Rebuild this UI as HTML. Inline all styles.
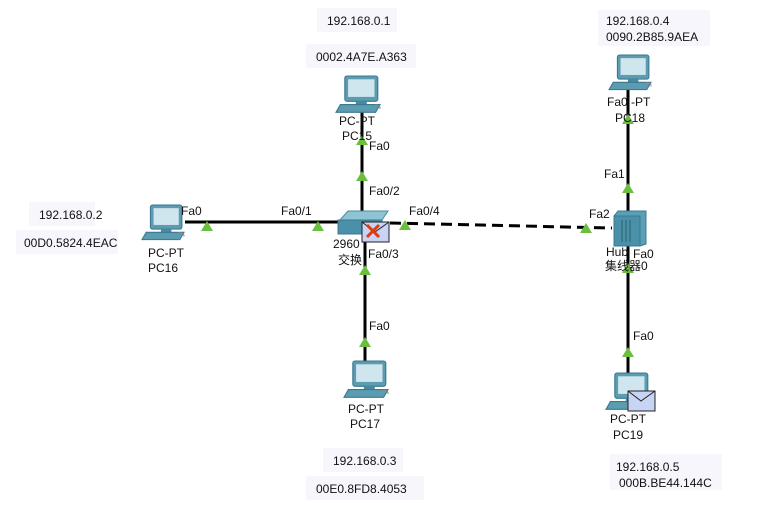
<!DOCTYPE html>
<html><head><meta charset="utf-8"><style>
body{margin:0;background:#fff;width:784px;height:511px;overflow:hidden}
svg{display:block;font-family:"Liberation Sans","Noto Sans CJK SC",sans-serif;font-size:12px}
</style></head><body>
<svg width="784" height="511" xmlns="http://www.w3.org/2000/svg">
<defs>
<g id="pc">
<rect x="8" y="0" width="30" height="23" rx="2" fill="#5b9cb0" stroke="#3b7890"/>
<rect x="11" y="3" width="24" height="16" fill="#cfe6ee"/>
<rect x="18" y="23" width="10" height="3" fill="#4a8aa0"/>
<polygon points="4,26 40,26 36,33 0,33" fill="#5b9cb0" stroke="#3b7890"/>
<path d="M34,27 q6,-2 6,3" stroke="#888" fill="none"/>
</g>
<polygon id="tri" points="0,-5 6,5 -6,5" fill="#6abf3f"/>
</defs>
<g fill="#f6f6fc">
<rect x="317" y="8" width="80" height="24"/><rect x="306" y="44" width="110" height="24"/>
<rect x="29" y="202" width="66" height="24"/><rect x="16" y="230" width="102" height="24"/>
<rect x="323" y="448" width="80" height="24"/><rect x="306" y="476" width="118" height="24"/>
<rect x="598" y="10" width="112" height="36"/>
<rect x="610" y="454" width="112" height="36"/>
</g>
<g fill="#111">
<text x="327" y="25">192.168.0.1</text>
<text x="316" y="61">0002.4A7E.A363</text>
<text x="39" y="219">192.168.0.2</text>
<text x="24" y="247">00D0.5824.4EAC</text>
<text x="333" y="465">192.168.0.3</text>
<text x="316" y="493">00E0.8FD8.4053</text>
<text x="606" y="25">192.168.0.4</text>
<text x="606" y="41">0090.2B85.9AEA</text>
<text x="616" y="471">192.168.0.5</text>
<text x="619" y="487">000B.BE44.144C</text>
</g>
<g stroke="#000" stroke-width="3">
<line x1="185" y1="222" x2="340" y2="222"/>
<line x1="362" y1="112" x2="362" y2="215"/>
<line x1="365" y1="238" x2="365" y2="362"/>
<line x1="628" y1="90" x2="628" y2="212"/>
<line x1="628" y1="245" x2="628" y2="373"/>
<line x1="390" y1="223" x2="612" y2="228" stroke-dasharray="11,6"/>
</g>
<use href="#pc" transform="translate(336,76) scale(1.1)"/>
<use href="#pc" transform="translate(142,205) scale(1.05)"/>
<use href="#pc" transform="translate(344,361) scale(1.1)"/>
<use href="#pc" transform="translate(609,55) scale(1.05)"/>
<use href="#pc" transform="translate(606,373) scale(1.1)"/>
<polygon points="340,220 348,211 388,211 382,220" fill="#8fc4d4" stroke="#4a8aa0"/>
<rect x="338" y="220" width="44" height="14" fill="#4a90a8" stroke="#3b7890"/>
<rect x="362" y="222" width="27" height="20" fill="#c8d4f4" stroke="#222"/>
<path d="M362,222 l13,10 l14,-10" stroke="#222" fill="none"/>
<path d="M367,225 l12,12 M379,225 l-12,12" stroke="#e03a10" stroke-width="3"/>
<polygon points="614,216 618,211 646,211 646,244 640,246 614,246" fill="#5a9fb5" stroke="#3b7890"/>
<rect x="614" y="216" width="26" height="30" fill="#4a90a8" stroke="#3b7890"/>
<g stroke="#2a6070"><line x1="622" y1="220" x2="622" y2="242"/><line x1="626" y1="220" x2="626" y2="242"/><line x1="630" y1="220" x2="630" y2="242"/></g>
<rect x="628" y="391" width="27" height="20" fill="#c8d4f4" stroke="#222"/>
<path d="M628,391 l13,10 l14,-10" stroke="#222" fill="none"/>
<use href="#tri" x="207" y="226"/><use href="#tri" x="318" y="226"/>
<use href="#tri" x="362" y="176"/><use href="#tri" x="362" y="140"/>
<use href="#tri" x="365" y="270"/><use href="#tri" x="365" y="342"/>
<use href="#tri" x="405" y="225"/><use href="#tri" x="586" y="228"/>
<use href="#tri" x="628" y="119"/><use href="#tri" x="628" y="188"/>
<use href="#tri" x="628" y="268"/><use href="#tri" x="628" y="352"/>
<g fill="#111">
<text x="339" y="125">PC-PT</text><text x="342" y="140">PC15</text>
<text x="148" y="257">PC-PT</text><text x="148" y="272">PC16</text>
<text x="348" y="413">PC-PT</text><text x="350" y="428">PC17</text>
<text x="607" y="106">Fa0 -PT</text><text x="615" y="122">PC18</text>
<text x="610" y="423">PC-PT</text><text x="613" y="439">PC19</text>
<text x="333" y="248">2960</text><text x="338" y="264">交换</text>
<text x="606" y="256">Hub</text><text x="605" y="270">集线器0</text>
<text x="369" y="150">Fa0</text><text x="369" y="195">Fa0/2</text>
<text x="281" y="215">Fa0/1</text><text x="409" y="215">Fa0/4</text>
<text x="181" y="215">Fa0</text><text x="368" y="258">Fa0/3</text>
<text x="369" y="330">Fa0</text><text x="589" y="218">Fa2</text>
<text x="604" y="178">Fa1</text><text x="633" y="258">Fa0</text>
<text x="633" y="340">Fa0</text>
</g>
</svg>
</body></html>
